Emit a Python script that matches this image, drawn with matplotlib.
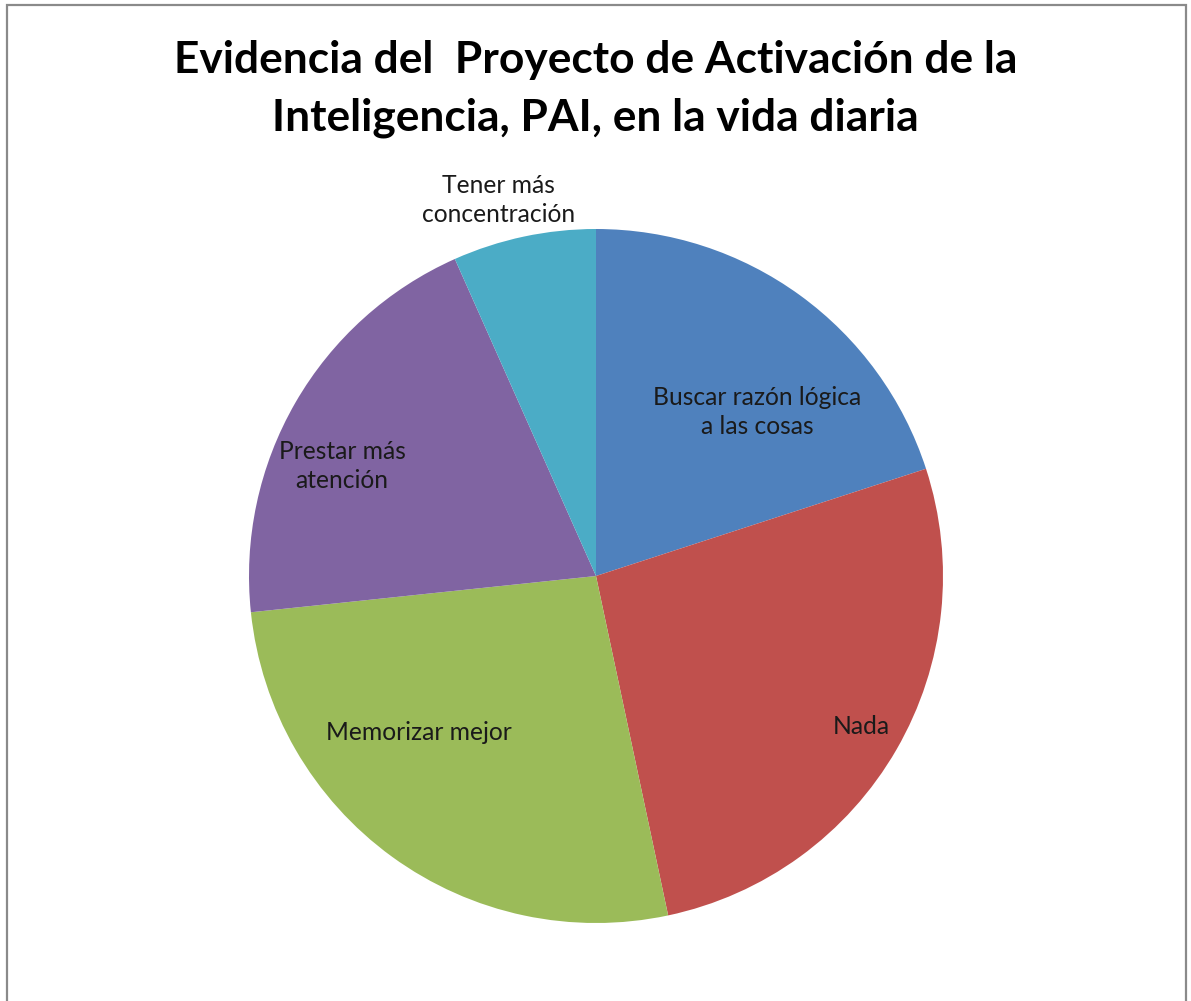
import matplotlib
matplotlib.use("Agg")
from matplotlib import pyplot as plt
from matplotlib.patches import Rectangle

# data
categories = ['Buscar razón lógica\na las cosas', 'Nada', 'Memorizar mejor',
              'Prestar más\natención', 'Tener más\nconcentración']
counts = [3, 4, 4, 3, 1]
colors = ['#4F81BD', '#C0504D', '#9BBB59', '#8064A2', '#4BACC6']
title = 'Evidencia del  Proyecto de Activación de la\nInteligencia, PAI, en la vida diaria'

# label spots (pie radius units, from centre)
label_pos = [(0.464, 0.473), (0.764, -0.435), (-0.510, -0.450),
             (-0.732, 0.317), (-0.282, 1.084)]

plt.rcParams['font.family'] = ['Lato', 'DejaVu Sans']

W, H = 1191, 1001
fig = plt.figure(figsize=(W / 100, H / 100), dpi=100)

# gray chart frame
fig.patches.append(Rectangle((7 / W, -0.05), 1179 / W, 1.05 - 5 / H,
                             transform=fig.transFigure, fill=False,
                             edgecolor='#8a8a8a', linewidth=1.6))

cx, cy, r = 596, 576, 347
ax = fig.add_axes([(cx - r) / W, (H - cy - r) / H, 2 * r / W, 2 * r / H])
wedges, texts = ax.pie(counts, colors=colors, startangle=90, counterclock=False,
                       labels=categories, radius=1,
                       textprops=dict(fontsize=17.7, color='#1a1a1a'))
for t, (x, y) in zip(texts, label_pos):
    t.set_position((x, y))
    t.set_ha('center')
    t.set_va('center')
    t.set_multialignment('center')
    t.set_linespacing(1.3)
ax.set_xlim(-1, 1)
ax.set_ylim(-1, 1)
ax.axis('off')

fig.text(0.5, 1 - 89 / H, title, ha='center', va='center', fontsize=31.9,
         fontweight='bold', linespacing=1.5)

fig.savefig('out.png', dpi=100)
